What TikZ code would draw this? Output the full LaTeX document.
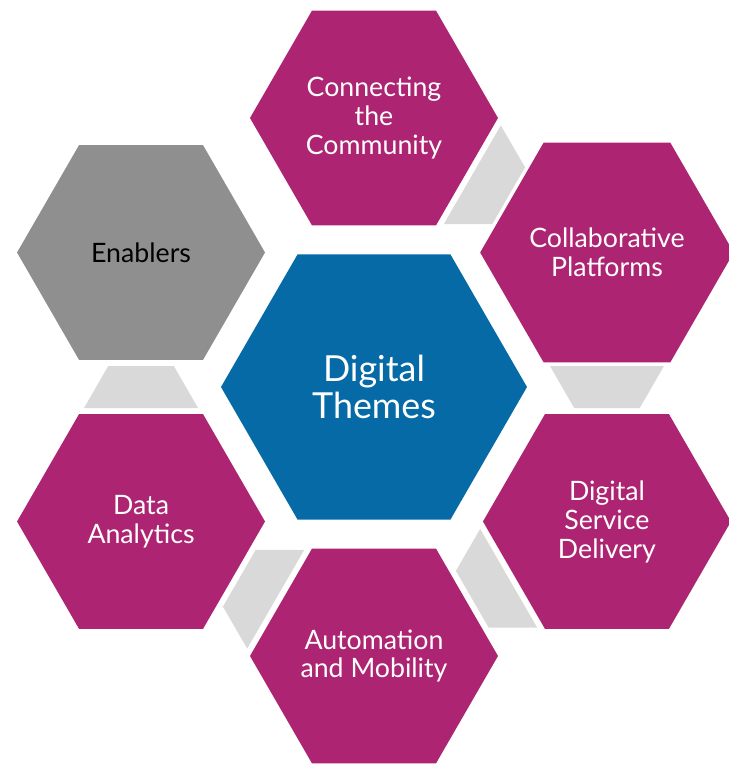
\documentclass[tikz,border=0pt]{standalone}
\usepackage{fontspec}
\setmainfont{Lato}
\usepackage{tikz}
\usetikzlibrary{calc, shapes.geometric, positioning}
\definecolor{themepink}{HTML}{AD2572}
\definecolor{hubblue}{HTML}{056AA6}
\definecolor{enablergray}{HTML}{8F8F8F}
\definecolor{linkgray}{HTML}{D9D9D9}
\newcommand\linkpiece[2]{
    \coordinate (mid)  at ($(#1.center)!0.5!(#2.center)$);
    \coordinate (near) at ($(mid)!0.525cm!(#1.center)$);
    \coordinate (far)  at ($(mid)!0.525cm!(#2.center)$);
    \fill [linkfill] ($(near)!1.425cm!90:(#1.center)$) -- ($(near)!1.425cm!-90:(#1.center)$)
        -- ($(far)!0.82cm!90:(#2.center)$) -- ($(far)!0.82cm!-90:(#2.center)$) -- cycle;
}
\tikzstyle{theme}    = [regular polygon,regular polygon sides=6,minimum size=6.2cm,inner sep=0pt,outer sep=0pt,fill=themepink,text=white,align=center,font=\fontsize{19}{20.6}\selectfont]
\tikzstyle{hub}      = [theme,minimum size=7.65cm,fill=hubblue,font=\fontsize{25.5}{26.6}\selectfont]
\tikzstyle{enabler}  = [theme,fill=enablergray,text=black]
\tikzstyle{linkfill} = [fill=linkgray]

\begin{document}
\begin{tikzpicture}
        \useasboundingbox (-9.35,-9.45) rectangle (8.85,9.675);

        \node[hub]     (themes)     at (0,0)                          {Digital\\Themes};
        \node[theme]   (community)  at ($(themes)+(90:6.725cm)$)      {Connecting\\the\\Community};
        \node[theme]   (platforms)  at ($(themes)+(30:6.725cm)$)      {Collaborative\\Platforms};
        \node[theme]   (delivery)   at ($(themes)+(-30:6.725cm)$)     {Digital\\Service\\Delivery};
        \node[theme]   (automation) at ($(themes)+(-90:6.725cm)$)     {Automation\\and Mobility};
        \node[theme]   (analytics)  at ($(themes)+(-150:6.725cm)$)    {Data\\Analytics};
        \node[enabler] (enablers)   at ($(themes)+(150:6.725cm)$)     {Enablers};

        \linkpiece{community}{platforms}
        \linkpiece{platforms}{delivery}
        \linkpiece{delivery}{automation}
        \linkpiece{automation}{analytics}
        \linkpiece{analytics}{enablers}
    \end{tikzpicture}
\end{document}
